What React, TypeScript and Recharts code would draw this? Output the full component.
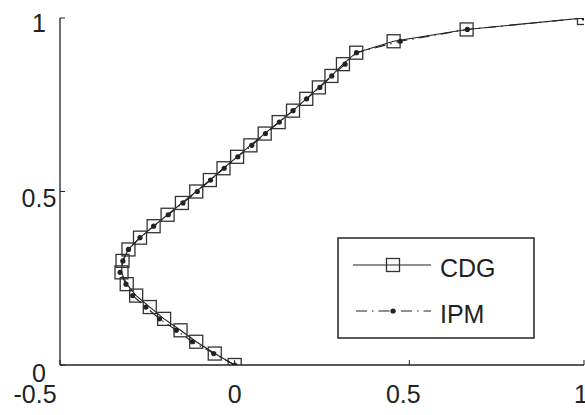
import { Scatter, ScatterChart, XAxis, YAxis } from "recharts";

const W = 585;
const H = 415;
const INK = "#222";
const FONT = "'Liberation Sans', Arial, Helvetica, sans-serif";

// sample heights shared by both series
const levels = [
  0, 0.033, 0.067, 0.1, 0.133, 0.167, 0.2, 0.233, 0.267, 0.3, 0.333, 0.367, 0.4, 0.433, 0.467, 0.5,
  0.533, 0.567, 0.6, 0.633, 0.667, 0.7, 0.733, 0.767, 0.8, 0.833, 0.867, 0.9, 0.933, 0.967, 1,
];
const cdgX = [
  0, -0.057, -0.11, -0.155, -0.202, -0.243, -0.282, -0.309, -0.324, -0.321, -0.304, -0.271, -0.232,
  -0.192, -0.151, -0.11, -0.071, -0.032, 0.007, 0.045, 0.086, 0.126, 0.167, 0.205, 0.241, 0.277, 0.31,
  0.348, 0.455, 0.664, 1,
];
const ipmX = [
  0, -0.06, -0.121, -0.167, -0.215, -0.254, -0.292, -0.311, -0.328, -0.32, -0.304, -0.271, -0.232,
  -0.19, -0.148, -0.107, -0.069, -0.03, 0.009, 0.049, 0.088, 0.128, 0.167, 0.206, 0.244, 0.278, 0.316,
  0.349, 0.474, 0.666, 1,
];
const xTicks = [-0.5, 0, 0.5, 1];
const yTicks = [0, 0.5, 1];
const seriesNames = ["CDG", "IPM"];

const cdg = levels.map((y, i) => ({ x: cdgX[i], y }));
const ipm = levels.map((y, i) => ({ x: ipmX[i], y }));

const DASHDOT = "11 5 1.5 5";

// label nudges, matching where the original put them
const xLabelShift: Record<string, number> = { "-0.5": -25, "0.5": -6 };
const yLabelShift: Record<string, number> = { "0": 2, "1": -1 };

function XTick(props: any) {
  const { x, y, payload } = props;
  const v = String(payload.value);
  return (
    <text x={x + (xLabelShift[v] ?? 0)} y={y + 43} textAnchor="middle" fontSize={25} fontFamily={FONT} fill={INK}>
      {v}
    </text>
  );
}

function YTick(props: any) {
  const { x, y, payload } = props;
  const v = String(payload.value);
  return (
    <text x={x} y={y + 15 + (yLabelShift[v] ?? 0)} textAnchor="middle" fontSize={25} fontFamily={FONT} fill={INK}>
      {v}
    </text>
  );
}

const NoTick = () => <g />;

function Square(props: any) {
  const { cx, cy } = props;
  return <rect x={cx - 6.5} y={cy - 6.5} width={13} height={13} fill="none" stroke="#333" strokeWidth={1.3} />;
}

function Dot(props: any) {
  const { cx, cy } = props;
  return <circle cx={cx} cy={cy} r={2.6} fill={INK} />;
}

function LegendBox() {
  return (
    <svg
      width={198}
      height={102}
      style={{ position: "absolute", left: 337, top: 237, overflow: "visible" }}
    >
      <rect x={1} y={1} width={196} height={100} fill="#fff" stroke={INK} strokeWidth={1.5} />
      <line x1={16} x2={94} y1={28} y2={28} stroke={INK} strokeWidth={1.1} />
      <rect x={49.5} y={21.5} width={13} height={13} fill="none" stroke="#333" strokeWidth={1.3} />
      <text x={103} y={40} fontSize={25} fontFamily={FONT} fill={INK}>
        {seriesNames[0]}
      </text>
      <line
        x1={16}
        x2={94}
        y1={74}
        y2={74}
        stroke={INK}
        strokeWidth={1.1}
        strokeDasharray={DASHDOT}
        strokeDashoffset={-3}
      />
      <circle cx={56} cy={74} r={2.6} fill={INK} />
      <text x={103} y={86} fontSize={25} fontFamily={FONT} fill={INK}>
        {seriesNames[1]}
      </text>
    </svg>
  );
}

export default function App() {
  return (
    <div style={{ position: "relative", width: W, height: H, background: "#fff" }}>
      <style>{"body{margin:0}"}</style>
      <ScatterChart width={W} height={H} margin={{ top: 18, right: 1, bottom: 0, left: 0 }}>
        <XAxis
          type="number"
          dataKey="x"
          domain={[-0.5, 1]}
          ticks={xTicks}
          height={50}
          tickSize={-5}
          tickMargin={0}
          tick={XTick}
          axisLine={{ stroke: INK, strokeWidth: 1.3 }}
          tickLine={{ stroke: INK }}
          allowDataOverflow
        />
        <XAxis
          xAxisId="top"
          orientation="top"
          type="number"
          dataKey="x"
          domain={[-0.5, 1]}
          ticks={xTicks}
          height={0}
          tickSize={-5}
          tick={NoTick}
          axisLine={{ stroke: INK, strokeWidth: 1.3 }}
          tickLine={{ stroke: INK }}
          allowDataOverflow
        />
        <YAxis
          type="number"
          dataKey="y"
          domain={[0, 1]}
          ticks={yTicks}
          width={60}
          tickSize={-5}
          tickMargin={26}
          tick={YTick}
          axisLine={{ stroke: INK, strokeWidth: 1.3 }}
          tickLine={{ stroke: INK }}
          allowDataOverflow
        />
        <YAxis
          yAxisId="right"
          orientation="right"
          type="number"
          dataKey="y"
          domain={[0, 1]}
          ticks={yTicks}
          width={0}
          tickSize={-5}
          tick={NoTick}
          axisLine={{ stroke: INK, strokeWidth: 1.3 }}
          tickLine={{ stroke: INK }}
          allowDataOverflow
        />
        <Scatter
          name={seriesNames[0]}
          data={cdg}
          line={{ stroke: INK, strokeWidth: 1.1 }}
          shape={Square}
          isAnimationActive={false}
        />
        <Scatter
          name={seriesNames[1]}
          data={ipm}
          line={{ stroke: INK, strokeWidth: 1.1, strokeDasharray: DASHDOT }}
          shape={Dot}
          isAnimationActive={false}
        />
      </ScatterChart>
      <LegendBox />
    </div>
  );
}
